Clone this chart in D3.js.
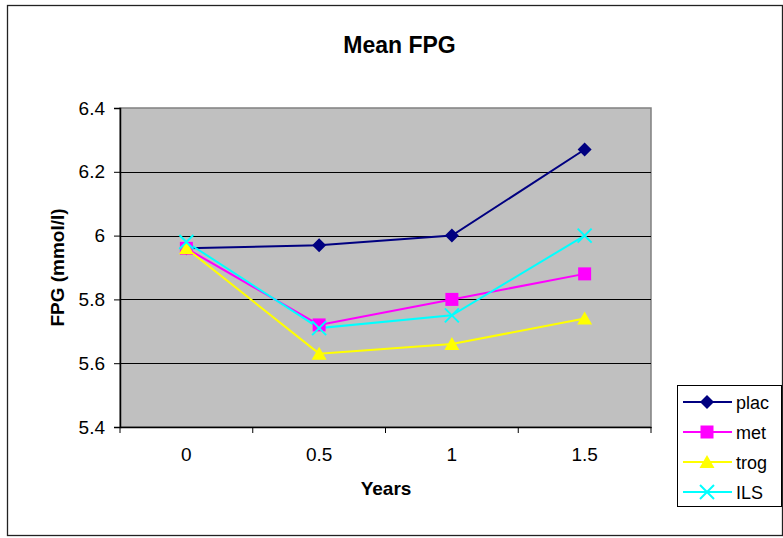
<!DOCTYPE html>
<html>
<head>
<meta charset="utf-8">
<script src="https://cdn.jsdelivr.net/npm/d3@7"></script>
<style>
  body { margin: 0; background: #fff; }
  text { font-family: "Liberation Sans", Arial, sans-serif; }
</style>
</head>
<body>
<div id="container"></div>
<script>
//DATA
const years = ["0", "0.5", "1", "1.5"];
const plac = [5.96, 5.97, 6.0, 6.27];
const met = [5.96, 5.72, 5.80, 5.88];
const trog = [5.96, 5.63, 5.66, 5.74];
const ils = [5.98, 5.71, 5.75, 6.0];
const yTicks = [5.4, 5.6, 5.8, 6, 6.2, 6.4];

const series = [
  {name: "plac", values: plac, color: "#000080", marker: "diamond"},
  {name: "met", values: met, color: "#ff00ff", marker: "square"},
  {name: "trog", values: trog, color: "#ffff00", marker: "triangle"},
  {name: "ILS", values: ils, color: "#00ffff", marker: "x"}
];

//CONSTANTS
const width = 783, height = 538;
const plot = {left: 120, right: 651, top: 108, bottom: 427};

const svg = d3.select("#container")
  .append("svg")
  .attr("width", width)
  .attr("height", height);

// outer chart border
svg.append("rect")
  .attr("x", 7.5).attr("y", 5.5)
  .attr("width", width - 8).attr("height", 530)
  .attr("fill", "#fff").attr("stroke", "#222").attr("stroke-width", 1.3);

//SCALES
const xScale = d3.scaleBand()
  .domain(years)
  .range([plot.left, plot.right]);

const yScale = d3.scaleLinear()
  .domain([5.4, 6.4])
  .range([plot.bottom, plot.top]);

// plot area
svg.append("rect")
  .attr("x", plot.left).attr("y", plot.top)
  .attr("width", plot.right - plot.left).attr("height", plot.bottom - plot.top)
  .attr("fill", "#c0c0c0")
  .attr("stroke", "#808080").attr("stroke-width", 1.5);

// gridlines
svg.append("g")
  .selectAll("line")
  .data(yTicks.slice(1, -1))
  .join("line")
  .attr("x1", plot.left).attr("x2", plot.right)
  .attr("y1", d => Math.round(yScale(d)) + 0.5)
  .attr("y2", d => Math.round(yScale(d)) + 0.5)
  .attr("stroke", "#000").attr("stroke-width", 1);

// axes
const yAxis = d3.axisLeft(yScale)
  .tickValues(yTicks)
  .tickFormat(d => d3.format("")(+d.toFixed(1)))
  .tickSizeOuter(0)
  .tickSize(6)
  .tickPadding(9);

const yAxisGroup = svg.append("g")
  .attr("transform", `translate(${plot.left}, 0)`)
  .call(yAxis);

const xAxis = d3.axisBottom(xScale)
  .tickSize(0)
  .tickPadding(21);

const xAxisGroup = svg.append("g")
  .attr("transform", `translate(0, ${plot.bottom})`)
  .call(xAxis);

// x ticks between categories
svg.append("g")
  .selectAll("line")
  .data(d3.range(years.length + 1))
  .join("line")
  .attr("x1", i => plot.left + i * xScale.step())
  .attr("x2", i => plot.left + i * xScale.step())
  .attr("y1", plot.bottom).attr("y2", plot.bottom + 6)
  .attr("stroke", "#000");

[yAxisGroup, xAxisGroup].forEach(g => {
  g.selectAll("path.domain").attr("stroke", "#000").attr("stroke-width", 1.5);
  g.selectAll(".tick line").attr("stroke", "#000");
  g.selectAll("text")
    .attr("fill", "#000")
    .style("font-size", "19px")
    .style("font-family", "'Liberation Sans', Arial, sans-serif");
});

// lines
const lineGen = d3.line()
  .x((d, i) => xScale(years[i]) + xScale.bandwidth() / 2)
  .y(d => yScale(d));

svg.selectAll("path.line")
  .data(series)
  .join("path")
  .attr("class", "line")
  .attr("fill", "none")
  .attr("stroke", d => d.color)
  .attr("stroke-width", 2)
  .attr("d", d => lineGen(d.values));

// markers
function drawMarker(g, type, color) {
  if (type === "diamond") {
    g.append("path").attr("d", "M0,-7L7,0L0,7L-7,0Z").attr("fill", color);
  } else if (type === "square") {
    g.append("rect").attr("x", -6.5).attr("y", -6.5).attr("width", 13).attr("height", 13).attr("fill", color);
  } else if (type === "triangle") {
    g.append("path").attr("d", "M0,-7L7.5,6L-7.5,6Z").attr("fill", color);
  } else {
    g.append("path").attr("d", "M-7,-7L7,7M-7,7L7,-7").attr("stroke", color).attr("stroke-width", 2).attr("fill", "none");
  }
}

series.forEach(s => {
  s.values.forEach((v, i) => {
    const g = svg.append("g")
      .attr("transform", `translate(${xScale(years[i]) + xScale.bandwidth() / 2}, ${yScale(v)})`);
    drawMarker(g, s.marker, s.color);
  });
});

// titles
svg.append("text")
  .attr("x", 399.5).attr("y", 53)
  .attr("text-anchor", "middle")
  .style("font-size", "23px").style("font-weight", "bold")
  .text("Mean FPG");

svg.append("text")
  .attr("transform", `translate(64, ${(plot.top + plot.bottom) / 2}) rotate(-90)`)
  .attr("text-anchor", "middle")
  .style("font-size", "19px").style("font-weight", "bold")
  .text("FPG (mmol/l)");

svg.append("text")
  .attr("x", 386).attr("y", 495)
  .attr("text-anchor", "middle")
  .style("font-size", "19px").style("font-weight", "bold")
  .text("Years");

// legend
const legend = svg.append("g");
legend.append("rect")
  .attr("x", 677.5).attr("y", 385.5).attr("width", 104).attr("height", 121)
  .attr("fill", "#fff").attr("stroke", "#000");

series.forEach((s, i) => {
  const y = 402 + i * 30;
  const g = legend.append("g");
  g.append("line")
    .attr("x1", 683).attr("x2", 732).attr("y1", y).attr("y2", y)
    .attr("stroke", s.color).attr("stroke-width", 2);
  const m = g.append("g").attr("transform", `translate(707, ${y})`);
  drawMarker(m, s.marker, s.color);
  g.append("text")
    .attr("x", 736).attr("y", y + 6.5)
    .style("font-size", "18px")
    .text(s.name);
});
</script>
</body>
</html>
